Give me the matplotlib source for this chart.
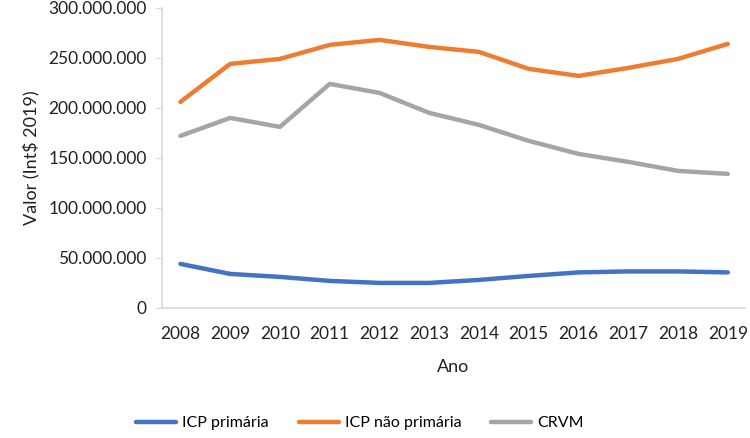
'''Valor por ano - ICP primária, ICP não primária, CRVM'''

import matplotlib
matplotlib.use('Agg')
import matplotlib.pyplot as plt
from matplotlib.ticker import FuncFormatter

### dados (em milhões)
anos = ['2008', '2009', '2010', '2011', '2012', '2013',
        '2014', '2015', '2016', '2017', '2018', '2019']
icp_primaria = [44, 34, 31, 27, 25, 25, 28, 32, 35.5, 36.5, 36.5, 35.5]
icp_nao_primaria = [206, 244, 249, 263, 268, 261, 256, 239, 232, 240, 249, 264]
crvm = [172, 190, 181, 224, 215, 195, 183, 167, 154, 146, 137, 134]

plt.rcParams['font.family'] = ['Lato', 'DejaVu Sans']

fig = plt.figure(figsize=(7.5, 4.38), dpi=100)
ax = fig.add_axes([0.216, 0.297, 0.777, 0.685])

x = range(len(anos))
ax.plot(x, [v * 1e6 for v in icp_primaria], color='#4472C4', lw=3.2,
        label='ICP primária', solid_capstyle='round')
ax.plot(x, [v * 1e6 for v in icp_nao_primaria], color='#ED7D31', lw=3.2,
        label='ICP não primária', solid_capstyle='round')
ax.plot(x, [v * 1e6 for v in crvm], color='#A5A5A5', lw=3.2,
        label='CRVM', solid_capstyle='round')

ax.set_xlim(-0.37, len(anos) - 1 + 0.34)
ax.set_ylim(0, 300e6)
ax.set_yticks([0, 50e6, 100e6, 150e6, 200e6, 250e6, 300e6])
ax.yaxis.set_major_formatter(
    FuncFormatter(lambda v, p: f'{int(v):,}'.replace(',', '.')))
ax.set_xticks(list(x))
ax.set_xticklabels(anos)

for s in ['top', 'right']:
    ax.spines[s].set_visible(False)
for s in ['left', 'bottom']:
    ax.spines[s].set_color('#D9D9D9')
    ax.spines[s].set_linewidth(1.2)

ax.tick_params(axis='y', length=5, color='#D9D9D9', labelsize=12.5,
               labelcolor='#222222', pad=6)
ax.tick_params(axis='x', length=0, labelsize=12.5, labelcolor='#222222',
               pad=13)

ax.set_xlabel('Ano', fontsize=13, color='#222222', labelpad=12)
ax.set_ylabel('Valor (Int\\$ 2019)', fontsize=13, color='#222222',
              labelpad=6)

fig.legend(loc='center', bbox_to_anchor=(0.48, 1 - 423 / 438), ncol=3,
           frameon=False, fontsize=11.5, handlelength=2.5,
           columnspacing=1.9, handletextpad=0.35)

fig.savefig('out.png', dpi=100)
